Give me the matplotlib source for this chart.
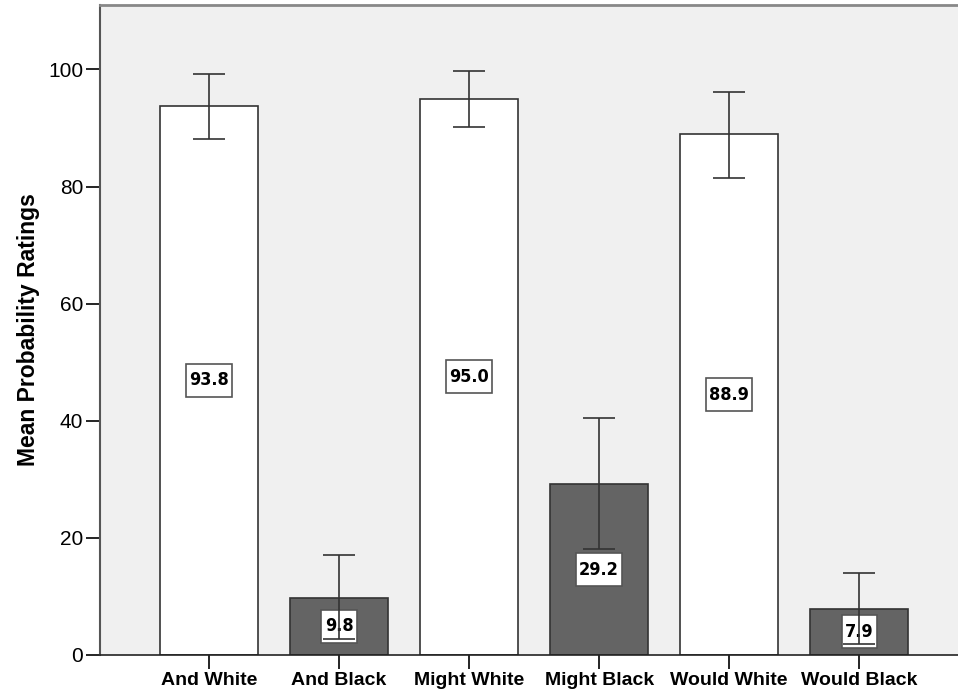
import matplotlib
matplotlib.use("Agg")
import matplotlib.pyplot as plt
from matplotlib.path import Path

# Data
categorias = ["And White", "And Black", "Might White", "Might Black",
              "Would White", "Would Black"]
medias = [93.8, 9.8, 95.0, 29.2, 88.9, 7.9]
ic_inferior = [88.2, 2.7, 90.1, 18.1, 81.5, 1.9]
ic_superior = [99.3, 17.0, 99.7, 40.5, 96.1, 14.0]
colores = ["white", "#646464", "white", "#646464", "white", "#646464"]


def caja_etiqueta(x0, y0, width, height, mutation_size):
    # caja rectangular, con más relleno vertical que horizontal
    px = 0.18 * mutation_size
    py = 0.42 * mutation_size
    x0, y0 = x0 - px, y0 - py
    x1, y1 = x0 + width + 2 * px, y0 + height + 2 * py
    return Path([(x0, y0), (x1, y0), (x1, y1), (x0, y1), (x0, y0)], closed=True)


fig = plt.figure(figsize=(9.58, 6.94), dpi=100)
ax = fig.add_axes([100 / 958, 1 - 655 / 694, 1 - 100 / 958, 650 / 694])
ax.set_facecolor("#f0f0f0")

x = list(range(len(categorias)))
ax.bar(x, medias, width=0.75, color=colores, edgecolor="#333333",
       linewidth=1.2, zorder=2)

err_low = [m - lo for m, lo in zip(medias, ic_inferior)]
err_high = [hi - m for m, hi in zip(medias, ic_superior)]
ax.errorbar(x, medias, yerr=[err_low, err_high], fmt="none",
            ecolor="#333333", elinewidth=1.2, capsize=11.5, capthick=1.2,
            zorder=5)

for xi, m in zip(x, medias):
    ax.text(xi, m / 2, f"{m:.1f}", ha="center", va="center",
            fontsize=13, fontweight="bold", fontstretch="condensed",
            family=["Liberation Sans Narrow", "DejaVu Sans"],
            bbox=dict(boxstyle=caja_etiqueta, facecolor="white",
                      edgecolor="#555555", linewidth=1.2),
            zorder=4)

ax.set_xlim(-0.838, 5.76)
ax.set_ylim(0, 111)
ax.set_yticks([0, 20, 40, 60, 80, 100])
ax.set_xticks(x)
ax.set_xticklabels(categorias, fontsize=14, fontweight="bold",
                   family="Liberation Sans")
ax.tick_params(axis="y", labelsize=15, length=10, width=1.2, pad=2)
ax.tick_params(axis="x", length=10, width=1.2, pad=2)
for lab in ax.get_yticklabels():
    lab.set_family("Liberation Sans")

ax.set_ylabel("Mean Probability Ratings", fontsize=16.5, fontweight="bold",
              family="Liberation Sans", labelpad=6)

ax.spines["right"].set_visible(False)
ax.spines["top"].set_color("#888888")
ax.spines["top"].set_linewidth(2)
ax.spines["left"].set_color("#555555")
ax.spines["left"].set_linewidth(1.5)
ax.spines["bottom"].set_color("#222222")
ax.spines["bottom"].set_linewidth(1.2)

fig.savefig("out.png", dpi=100)
